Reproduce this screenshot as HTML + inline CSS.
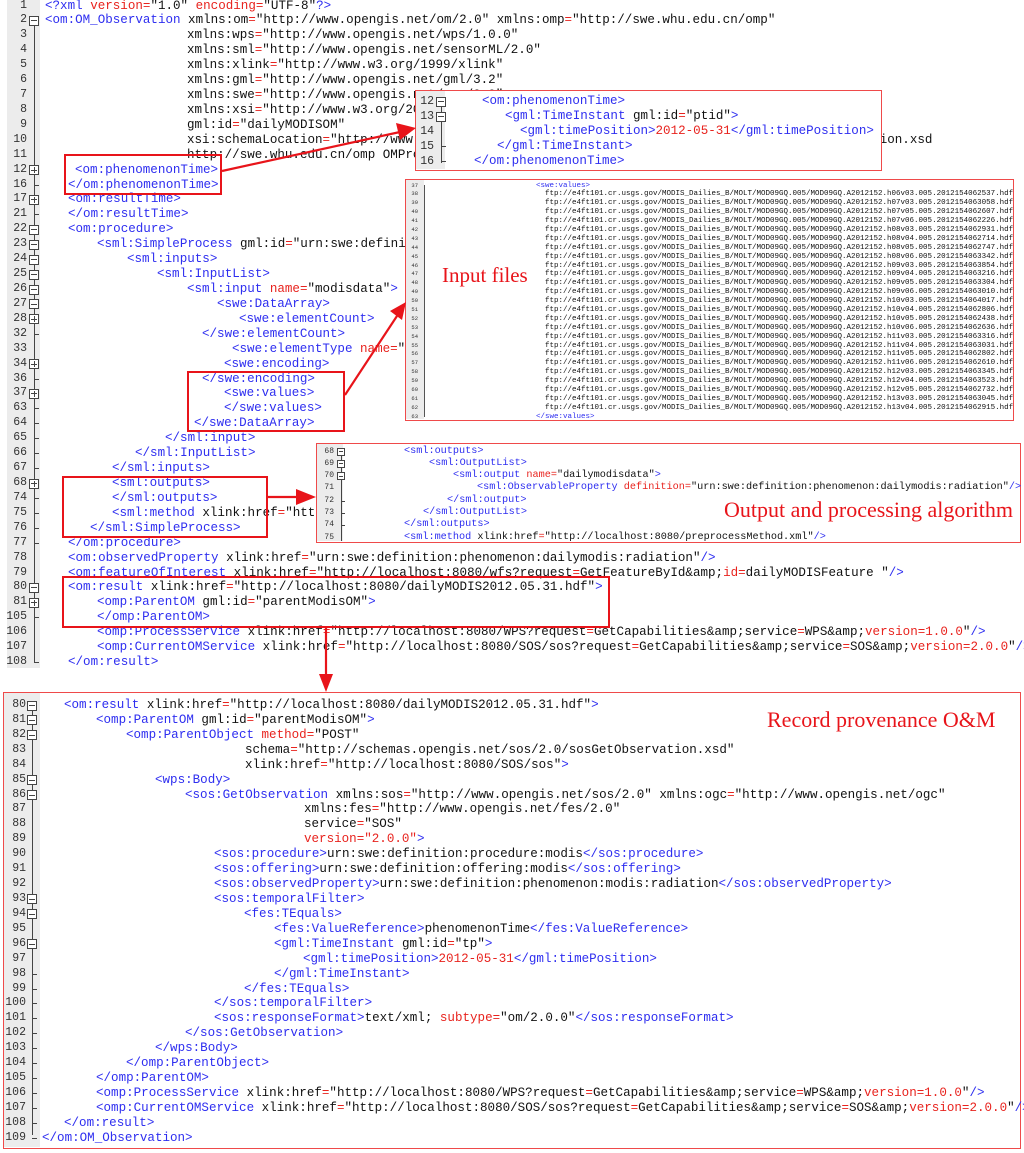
<!DOCTYPE html>
<html><head><meta charset="utf-8">
<style>
*{margin:0;padding:0;box-sizing:border-box}
body{width:1024px;height:1153px;background:#fff;position:relative;overflow:hidden;font-family:"Liberation Mono",monospace;color:#111}
i{font-style:normal;color:#e8231e}
u{text-decoration:none;color:#2e2ef0}
.pan{position:absolute}
.r{position:relative;white-space:pre}
.n{position:absolute;text-align:right;color:#333}
.c{position:absolute;white-space:pre}
.fb{position:absolute;background:#fff;border:1px solid #444;font-size:0}
.fb:before{content:"";position:absolute;left:1px;right:1px;top:50%;height:1px;margin-top:-.5px;background:#444}
.fb.p:after{content:"";position:absolute;top:1px;bottom:1px;left:50%;width:1px;margin-left:-.5px;background:#444}
.tk{position:absolute;height:1px;background:#444}
/* top panel */
#T{left:0;top:-1.5px;width:1024px;font-size:12.55px}
#T .r{height:14.93px;line-height:14.93px}
#T .n{left:0;width:27px;font-size:11.5px}
#T .fb{left:29px;top:2.5px;width:10px;height:10px}
#T .tk{left:34px;top:7px;width:5px}
#Tg{position:absolute;left:7px;top:0;width:33px;height:668px;background:#ececec}
#Tv{position:absolute;left:34px;top:26px;width:1px;height:636px;background:#444}
/* bottom */
#B{left:3px;top:692px;width:1018px;height:457px;border:1.5px solid #ef4a4a;background:#fff}
#Bin{position:absolute;left:0;top:5px;font-size:12.55px}
#Bin .r{height:14.93px;line-height:14.93px}
#Bin .n{left:0;width:22px;font-size:11.5px}
#Bin .fb{left:23px;top:2.5px;width:10px;height:10px}
#Bin .tk{left:28px;top:7px;width:5px}
#Bg{position:absolute;left:0;top:0;width:36px;height:454px;background:#ececec}
#Bv{position:absolute;left:28px;top:10px;width:1px;height:432px;background:#444}
/* panel B */
#PB{left:415px;top:90px;width:467px;height:81px;border:1.5px solid #ef4a4a;background:#fff;font-size:12.55px}
#PB .r{height:15px;line-height:15px}
#PB .n{left:0;width:18px;font-size:11.5px}
#PB .fb{left:20px;top:2.5px;width:10px;height:10px}
#PB .tk{left:25px;top:7px;width:5px}
/* panel C */
#PC{left:405px;top:179px;width:609px;height:242px;border:1.5px solid #ef4a4a;background:#fff;font-size:7.5px}
#PC .r{height:8.9px;line-height:8.9px}
#PC .n{left:0;width:12px;font-size:5.5px}
/* panel F */
#PF{left:316px;top:443px;width:705px;height:100px;border:1.5px solid #ef4a4a;background:#fff;font-size:10.2px}
#PF .r{height:12.3px;line-height:12.3px}
#PF .n{left:0;width:17px;font-size:8px}
#PF .fb{left:20px;top:2px;width:8px;height:8px}
#PF .tk{left:24px;top:6px;width:4px}
.bx{position:absolute;border:2.2px solid #e8141a}
.lab{position:absolute;font-family:"Liberation Serif",serif;color:#e8141a;white-space:nowrap}
</style></head><body>

<div id="Tg"></div><div id="Tv"></div>
<div id="T" class="pan">
<div class="r"><span class="n">1</span><span class="c" style="left:45px"><u>&lt;?xml</u> <i>version=</i>"1.0" <i>encoding=</i>"UTF-8"<u>?&gt;</u></span></div>
<div class="r"><span class="n">2</span><span class="fb"></span><span class="c" style="left:45px"><u>&lt;om:OM_Observation</u> xmlns:om<i>=</i>"http://www.opengis.net/om/2.0" xmlns:omp<i>=</i>"http://swe.whu.edu.cn/omp"</span></div>
<div class="r"><span class="n">3</span><span class="c" style="left:187px">xmlns:wps<i>=</i>"http://www.opengis.net/wps/1.0.0"</span></div>
<div class="r"><span class="n">4</span><span class="c" style="left:187px">xmlns:sml<i>=</i>"http://www.opengis.net/sensorML/2.0"</span></div>
<div class="r"><span class="n">5</span><span class="c" style="left:187px">xmlns:xlink<i>=</i>"http://www.w3.org/1999/xlink"</span></div>
<div class="r"><span class="n">6</span><span class="c" style="left:187px">xmlns:gml<i>=</i>"http://www.opengis.net/gml/3.2"</span></div>
<div class="r"><span class="n">7</span><span class="c" style="left:187px">xmlns:swe<i>=</i>"http://www.opengis.net/swe/2.0"</span></div>
<div class="r"><span class="n">8</span><span class="c" style="left:187px">xmlns:xsi<i>=</i>"http://www.w3.org/2001/XMLSchema-instance"</span></div>
<div class="r"><span class="n">9</span><span class="c" style="left:187px">gml:id<i>=</i>"dailyMODISOM"</span></div>
<div class="r"><span class="n">10</span><span class="c" style="left:187px">xsi:schemaLocation<i>=</i>"http://www.opengis.net/om/2.0 http://schemas.opengis.net/om/2.0/observation.xsd</span></div>
<div class="r"><span class="n">11</span><span class="c" style="left:187px">http://swe.whu.edu.cn/omp OMProcess.xsd"</span></div>
<div class="r"><span class="n">12</span><span class="fb p"></span><span class="c" style="left:75px"><u>&lt;om:phenomenonTime&gt;</u></span></div>
<div class="r"><span class="n">16</span><span class="tk"></span><span class="c" style="left:68px"><u>&lt;/om:phenomenonTime&gt;</u></span></div>
<div class="r"><span class="n">17</span><span class="fb p"></span><span class="c" style="left:68px"><u>&lt;om:resultTime&gt;</u></span></div>
<div class="r"><span class="n">21</span><span class="tk"></span><span class="c" style="left:68px"><u>&lt;/om:resultTime&gt;</u></span></div>
<div class="r"><span class="n">22</span><span class="fb"></span><span class="c" style="left:68px"><u>&lt;om:procedure&gt;</u></span></div>
<div class="r"><span class="n">23</span><span class="fb"></span><span class="c" style="left:97px"><u>&lt;sml:SimpleProcess</u> gml:id<i>=</i>"urn:swe:definition:procedure:modis"<u>&gt;</u></span></div>
<div class="r"><span class="n">24</span><span class="fb"></span><span class="c" style="left:127px"><u>&lt;sml:inputs&gt;</u></span></div>
<div class="r"><span class="n">25</span><span class="fb"></span><span class="c" style="left:157px"><u>&lt;sml:InputList&gt;</u></span></div>
<div class="r"><span class="n">26</span><span class="fb"></span><span class="c" style="left:187px"><u>&lt;sml:input</u> <i>name=</i>"modisdata"<u>&gt;</u></span></div>
<div class="r"><span class="n">27</span><span class="fb"></span><span class="c" style="left:217px"><u>&lt;swe:DataArray&gt;</u></span></div>
<div class="r"><span class="n">28</span><span class="fb p"></span><span class="c" style="left:239px"><u>&lt;swe:elementCount&gt;</u></span></div>
<div class="r"><span class="n">32</span><span class="tk"></span><span class="c" style="left:202px"><u>&lt;/swe:elementCount&gt;</u></span></div>
<div class="r"><span class="n">33</span><span class="c" style="left:232px"><u>&lt;swe:elementType</u> <i>name=</i>"MODIS"<u>&gt;</u></span></div>
<div class="r"><span class="n">34</span><span class="fb p"></span><span class="c" style="left:224px"><u>&lt;swe:encoding&gt;</u></span></div>
<div class="r"><span class="n">36</span><span class="tk"></span><span class="c" style="left:202px"><u>&lt;/swe:encoding&gt;</u></span></div>
<div class="r"><span class="n">37</span><span class="fb p"></span><span class="c" style="left:224px"><u>&lt;swe:values&gt;</u></span></div>
<div class="r"><span class="n">63</span><span class="tk"></span><span class="c" style="left:224px"><u>&lt;/swe:values&gt;</u></span></div>
<div class="r"><span class="n">64</span><span class="tk"></span><span class="c" style="left:194px"><u>&lt;/swe:DataArray&gt;</u></span></div>
<div class="r"><span class="n">65</span><span class="tk"></span><span class="c" style="left:165px"><u>&lt;/sml:input&gt;</u></span></div>
<div class="r"><span class="n">66</span><span class="tk"></span><span class="c" style="left:135px"><u>&lt;/sml:InputList&gt;</u></span></div>
<div class="r"><span class="n">67</span><span class="tk"></span><span class="c" style="left:112px"><u>&lt;/sml:inputs&gt;</u></span></div>
<div class="r"><span class="n">68</span><span class="fb p"></span><span class="c" style="left:112px"><u>&lt;sml:outputs&gt;</u></span></div>
<div class="r"><span class="n">74</span><span class="tk"></span><span class="c" style="left:112px"><u>&lt;/sml:outputs&gt;</u></span></div>
<div class="r"><span class="n">75</span><span class="tk"></span><span class="c" style="left:112px"><u>&lt;sml:method</u> xlink:href<i>=</i>"http://localhost:8080/preprocessMethod.xml"<u>/&gt;</u></span></div>
<div class="r"><span class="n">76</span><span class="tk"></span><span class="c" style="left:90px"><u>&lt;/sml:SimpleProcess&gt;</u></span></div>
<div class="r"><span class="n">77</span><span class="tk"></span><span class="c" style="left:68px"><u>&lt;/om:procedure&gt;</u></span></div>
<div class="r"><span class="n">78</span><span class="c" style="left:68px"><u>&lt;om:observedProperty</u> xlink:href<i>=</i>"urn:swe:definition:phenomenon:dailymodis:radiation"<u>/&gt;</u></span></div>
<div class="r"><span class="n">79</span><span class="c" style="left:68px"><u>&lt;om:featureOfInterest</u> xlink:href<i>=</i>"http://localhost:8080/wfs?request<i>=</i>GetFeatureById&amp;amp;<i>id=</i>dailyMODISFeature "<u>/&gt;</u></span></div>
<div class="r"><span class="n">80</span><span class="fb"></span><span class="c" style="left:68px"><u>&lt;om:result</u> xlink:href<i>=</i>"http://localhost:8080/dailyMODIS2012.05.31.hdf"<u>&gt;</u></span></div>
<div class="r"><span class="n">81</span><span class="fb p"></span><span class="c" style="left:97px"><u>&lt;omp:ParentOM</u> gml:id<i>=</i>"parentModisOM"<u>&gt;</u></span></div>
<div class="r"><span class="n">105</span><span class="tk"></span><span class="c" style="left:97px"><u>&lt;/omp:ParentOM&gt;</u></span></div>
<div class="r"><span class="n">106</span><span class="c" style="left:97px"><u>&lt;omp:ProcessService</u> xlink:href<i>=</i>"http://localhost:8080/WPS?request<i>=</i>GetCapabilities&amp;amp;service<i>=</i>WPS&amp;amp;<i>version=1.0.0</i>"<u>/&gt;</u></span></div>
<div class="r"><span class="n">107</span><span class="c" style="left:97px"><u>&lt;omp:CurrentOMService</u> xlink:href<i>=</i>"http://localhost:8080/SOS/sos?request<i>=</i>GetCapabilities&amp;amp;service<i>=</i>SOS&amp;amp;<i>version=2.0.0</i>"<u>/&gt;</u></span></div>
<div class="r"><span class="n">108</span><span class="tk"></span><span class="c" style="left:68px"><u>&lt;/om:result&gt;</u></span></div>
</div>

<!-- Panel B -->
<div id="PB" class="pan">
<div style="position:absolute;left:0;top:0;width:29px;height:78px;background:#ececec"></div>
<div style="position:absolute;left:25px;top:8px;width:1px;height:64px;background:#444"></div>
<div style="position:absolute;left:0;top:3px;width:464px">
<div class="r"><span class="n">12</span><span class="fb"></span><span class="c" style="left:66px"><u>&lt;om:phenomenonTime&gt;</u></span></div>
<div class="r"><span class="n">13</span><span class="fb"></span><span class="c" style="left:89px"><u>&lt;gml:TimeInstant</u> gml:id<i>=</i>"ptid"<u>&gt;</u></span></div>
<div class="r"><span class="n">14</span><span class="c" style="left:104px"><u>&lt;gml:timePosition&gt;</u><i>2012-05-31</i><u>&lt;/gml:timePosition&gt;</u></span></div>
<div class="r"><span class="n">15</span><span class="tk"></span><span class="c" style="left:81px"><u>&lt;/gml:TimeInstant&gt;</u></span></div>
<div class="r"><span class="n">16</span><span class="tk"></span><span class="c" style="left:58px"><u>&lt;/om:phenomenonTime&gt;</u></span></div>
</div></div>

<!-- Panel C -->
<div id="PC" class="pan">
<div style="position:absolute;left:0;top:0;width:18px;height:239px;background:#ececec"></div>
<div style="position:absolute;left:18px;top:5px;width:1px;height:232px;background:#555"></div>
<div style="position:absolute;left:0;top:1.5px;width:606px">
<div class="r"><span class="n">37</span><span class="c" style="left:130px"><u>&lt;swe:values&gt;</u></span></div>
<div class="r"><span class="n">38</span><span class="c" style="left:139px">ftp://e4ft101.cr.usgs.gov/MODIS_Dailies_B/MOLT/MOD09GQ.005/MOD09GQ.A2012152.h06v03.005.2012154062537.hdf</span></div>
<div class="r"><span class="n">39</span><span class="c" style="left:139px">ftp://e4ft101.cr.usgs.gov/MODIS_Dailies_B/MOLT/MOD09GQ.005/MOD09GQ.A2012152.h07v03.005.2012154063058.hdf</span></div>
<div class="r"><span class="n">40</span><span class="c" style="left:139px">ftp://e4ft101.cr.usgs.gov/MODIS_Dailies_B/MOLT/MOD09GQ.005/MOD09GQ.A2012152.h07v05.005.2012154062607.hdf</span></div>
<div class="r"><span class="n">41</span><span class="c" style="left:139px">ftp://e4ft101.cr.usgs.gov/MODIS_Dailies_B/MOLT/MOD09GQ.005/MOD09GQ.A2012152.h07v06.005.2012154062226.hdf</span></div>
<div class="r"><span class="n">42</span><span class="c" style="left:139px">ftp://e4ft101.cr.usgs.gov/MODIS_Dailies_B/MOLT/MOD09GQ.005/MOD09GQ.A2012152.h08v03.005.2012154062931.hdf</span></div>
<div class="r"><span class="n">43</span><span class="c" style="left:139px">ftp://e4ft101.cr.usgs.gov/MODIS_Dailies_B/MOLT/MOD09GQ.005/MOD09GQ.A2012152.h08v04.005.2012154062714.hdf</span></div>
<div class="r"><span class="n">44</span><span class="c" style="left:139px">ftp://e4ft101.cr.usgs.gov/MODIS_Dailies_B/MOLT/MOD09GQ.005/MOD09GQ.A2012152.h08v05.005.2012154062747.hdf</span></div>
<div class="r"><span class="n">45</span><span class="c" style="left:139px">ftp://e4ft101.cr.usgs.gov/MODIS_Dailies_B/MOLT/MOD09GQ.005/MOD09GQ.A2012152.h08v06.005.2012154063342.hdf</span></div>
<div class="r"><span class="n">46</span><span class="c" style="left:139px">ftp://e4ft101.cr.usgs.gov/MODIS_Dailies_B/MOLT/MOD09GQ.005/MOD09GQ.A2012152.h09v03.005.2012154063854.hdf</span></div>
<div class="r"><span class="n">47</span><span class="c" style="left:139px">ftp://e4ft101.cr.usgs.gov/MODIS_Dailies_B/MOLT/MOD09GQ.005/MOD09GQ.A2012152.h09v04.005.2012154063216.hdf</span></div>
<div class="r"><span class="n">48</span><span class="c" style="left:139px">ftp://e4ft101.cr.usgs.gov/MODIS_Dailies_B/MOLT/MOD09GQ.005/MOD09GQ.A2012152.h09v05.005.2012154063304.hdf</span></div>
<div class="r"><span class="n">49</span><span class="c" style="left:139px">ftp://e4ft101.cr.usgs.gov/MODIS_Dailies_B/MOLT/MOD09GQ.005/MOD09GQ.A2012152.h09v06.005.2012154063010.hdf</span></div>
<div class="r"><span class="n">50</span><span class="c" style="left:139px">ftp://e4ft101.cr.usgs.gov/MODIS_Dailies_B/MOLT/MOD09GQ.005/MOD09GQ.A2012152.h10v03.005.2012154064017.hdf</span></div>
<div class="r"><span class="n">51</span><span class="c" style="left:139px">ftp://e4ft101.cr.usgs.gov/MODIS_Dailies_B/MOLT/MOD09GQ.005/MOD09GQ.A2012152.h10v04.005.2012154062806.hdf</span></div>
<div class="r"><span class="n">52</span><span class="c" style="left:139px">ftp://e4ft101.cr.usgs.gov/MODIS_Dailies_B/MOLT/MOD09GQ.005/MOD09GQ.A2012152.h10v05.005.2012154062438.hdf</span></div>
<div class="r"><span class="n">53</span><span class="c" style="left:139px">ftp://e4ft101.cr.usgs.gov/MODIS_Dailies_B/MOLT/MOD09GQ.005/MOD09GQ.A2012152.h10v06.005.2012154062636.hdf</span></div>
<div class="r"><span class="n">54</span><span class="c" style="left:139px">ftp://e4ft101.cr.usgs.gov/MODIS_Dailies_B/MOLT/MOD09GQ.005/MOD09GQ.A2012152.h11v03.005.2012154063316.hdf</span></div>
<div class="r"><span class="n">55</span><span class="c" style="left:139px">ftp://e4ft101.cr.usgs.gov/MODIS_Dailies_B/MOLT/MOD09GQ.005/MOD09GQ.A2012152.h11v04.005.2012154063031.hdf</span></div>
<div class="r"><span class="n">56</span><span class="c" style="left:139px">ftp://e4ft101.cr.usgs.gov/MODIS_Dailies_B/MOLT/MOD09GQ.005/MOD09GQ.A2012152.h11v05.005.2012154062802.hdf</span></div>
<div class="r"><span class="n">57</span><span class="c" style="left:139px">ftp://e4ft101.cr.usgs.gov/MODIS_Dailies_B/MOLT/MOD09GQ.005/MOD09GQ.A2012152.h11v06.005.2012154062610.hdf</span></div>
<div class="r"><span class="n">58</span><span class="c" style="left:139px">ftp://e4ft101.cr.usgs.gov/MODIS_Dailies_B/MOLT/MOD09GQ.005/MOD09GQ.A2012152.h12v03.005.2012154063345.hdf</span></div>
<div class="r"><span class="n">59</span><span class="c" style="left:139px">ftp://e4ft101.cr.usgs.gov/MODIS_Dailies_B/MOLT/MOD09GQ.005/MOD09GQ.A2012152.h12v04.005.2012154063523.hdf</span></div>
<div class="r"><span class="n">60</span><span class="c" style="left:139px">ftp://e4ft101.cr.usgs.gov/MODIS_Dailies_B/MOLT/MOD09GQ.005/MOD09GQ.A2012152.h12v05.005.2012154062732.hdf</span></div>
<div class="r"><span class="n">61</span><span class="c" style="left:139px">ftp://e4ft101.cr.usgs.gov/MODIS_Dailies_B/MOLT/MOD09GQ.005/MOD09GQ.A2012152.h13v03.005.2012154063045.hdf</span></div>
<div class="r"><span class="n">62</span><span class="c" style="left:139px">ftp://e4ft101.cr.usgs.gov/MODIS_Dailies_B/MOLT/MOD09GQ.005/MOD09GQ.A2012152.h13v04.005.2012154062915.hdf</span></div>
<div class="r"><span class="n">63</span><span class="c" style="left:130px"><u>&lt;/swe:values&gt;</u></span></div>
</div>
<div class="lab" style="left:36px;top:83px;font-size:21px">Input files</div>
</div>

<!-- Panel F -->
<div id="PF" class="pan">
<div style="position:absolute;left:0;top:0;width:26px;height:97px;background:#ececec"></div>
<div style="position:absolute;left:24px;top:6px;width:1px;height:91px;background:#444"></div>
<div style="position:absolute;left:0;top:1.5px;width:700px">
<div class="r"><span class="n">68</span><span class="fb"></span><span class="c" style="left:87px"><u>&lt;sml:outputs&gt;</u></span></div>
<div class="r"><span class="n">69</span><span class="fb"></span><span class="c" style="left:112px"><u>&lt;sml:OutputList&gt;</u></span></div>
<div class="r"><span class="n">70</span><span class="fb"></span><span class="c" style="left:136px"><u>&lt;sml:output</u> <i>name=</i>"dailymodisdata"<u>&gt;</u></span></div>
<div class="r"><span class="n">71</span><span class="c" style="left:160px"><u>&lt;sml:ObservableProperty</u> <i>definition=</i>"urn:swe:definition:phenomenon:dailymodis:radiation"<u>/&gt;</u></span></div>
<div class="r"><span class="n">72</span><span class="tk"></span><span class="c" style="left:130px"><u>&lt;/sml:output&gt;</u></span></div>
<div class="r"><span class="n">73</span><span class="tk"></span><span class="c" style="left:106px"><u>&lt;/sml:OutputList&gt;</u></span></div>
<div class="r"><span class="n">74</span><span class="tk"></span><span class="c" style="left:87px"><u>&lt;/sml:outputs&gt;</u></span></div>
<div class="r"><span class="n">75</span><span class="c" style="left:87px"><u>&lt;sml:method</u> xlink:href<i>=</i>"http://localhost:8080/preprocessMethod.xml"<u>/&gt;</u></span></div>
</div>
<div class="lab" style="left:407px;top:53px;font-size:22px">Output and processing algorithm</div>
</div>

<!-- Bottom panel -->
<div id="B" class="pan">
<div id="Bg"></div><div id="Bv"></div>
<div id="Bin" class="pan" style="width:1015px">
<div class="r"><span class="n">80</span><span class="fb"></span><span class="c" style="left:60px"><u>&lt;om:result</u> xlink:href<i>=</i>"http://localhost:8080/dailyMODIS2012.05.31.hdf"<u>&gt;</u></span></div>
<div class="r"><span class="n">81</span><span class="fb"></span><span class="c" style="left:92px"><u>&lt;omp:ParentOM</u> gml:id<i>=</i>"parentModisOM"<u>&gt;</u></span></div>
<div class="r"><span class="n">82</span><span class="fb"></span><span class="c" style="left:122px"><u>&lt;omp:ParentObject</u> <i>method=</i>"POST"</span></div>
<div class="r"><span class="n">83</span><span class="c" style="left:241px">schema<i>=</i>"http://schemas.opengis.net/sos/2.0/sosGetObservation.xsd"</span></div>
<div class="r"><span class="n">84</span><span class="c" style="left:241px">xlink:href<i>=</i>"http://localhost:8080/SOS/sos"<u>&gt;</u></span></div>
<div class="r"><span class="n">85</span><span class="fb"></span><span class="c" style="left:151px"><u>&lt;wps:Body&gt;</u></span></div>
<div class="r"><span class="n">86</span><span class="fb"></span><span class="c" style="left:181px"><u>&lt;sos:GetObservation</u> xmlns:sos<i>=</i>"http://www.opengis.net/sos/2.0" xmlns:ogc<i>=</i>"http://www.opengis.net/ogc"</span></div>
<div class="r"><span class="n">87</span><span class="c" style="left:300px">xmlns:fes<i>=</i>"http://www.opengis.net/fes/2.0"</span></div>
<div class="r"><span class="n">88</span><span class="c" style="left:300px">service<i>=</i>"SOS"</span></div>
<div class="r"><span class="n">89</span><span class="c" style="left:300px"><i>version="2.0.0"</i><u>&gt;</u></span></div>
<div class="r"><span class="n">90</span><span class="c" style="left:210px"><u>&lt;sos:procedure&gt;</u>urn:swe:definition:procedure:modis<u>&lt;/sos:procedure&gt;</u></span></div>
<div class="r"><span class="n">91</span><span class="c" style="left:210px"><u>&lt;sos:offering&gt;</u>urn:swe:definition:offering:modis<u>&lt;/sos:offering&gt;</u></span></div>
<div class="r"><span class="n">92</span><span class="c" style="left:210px"><u>&lt;sos:observedProperty&gt;</u>urn:swe:definition:phenomenon:modis:radiation<u>&lt;/sos:observedProperty&gt;</u></span></div>
<div class="r"><span class="n">93</span><span class="fb"></span><span class="c" style="left:210px"><u>&lt;sos:temporalFilter&gt;</u></span></div>
<div class="r"><span class="n">94</span><span class="fb"></span><span class="c" style="left:240px"><u>&lt;fes:TEquals&gt;</u></span></div>
<div class="r"><span class="n">95</span><span class="c" style="left:270px"><u>&lt;fes:ValueReference&gt;</u>phenomenonTime<u>&lt;/fes:ValueReference&gt;</u></span></div>
<div class="r"><span class="n">96</span><span class="fb"></span><span class="c" style="left:270px"><u>&lt;gml:TimeInstant</u> gml:id<i>=</i>"tp"<u>&gt;</u></span></div>
<div class="r"><span class="n">97</span><span class="c" style="left:299px"><u>&lt;gml:timePosition&gt;</u><i>2012-05-31</i><u>&lt;/gml:timePosition&gt;</u></span></div>
<div class="r"><span class="n">98</span><span class="tk"></span><span class="c" style="left:270px"><u>&lt;/gml:TimeInstant&gt;</u></span></div>
<div class="r"><span class="n">99</span><span class="tk"></span><span class="c" style="left:240px"><u>&lt;/fes:TEquals&gt;</u></span></div>
<div class="r"><span class="n">100</span><span class="tk"></span><span class="c" style="left:210px"><u>&lt;/sos:temporalFilter&gt;</u></span></div>
<div class="r"><span class="n">101</span><span class="tk"></span><span class="c" style="left:210px"><u>&lt;sos:responseFormat&gt;</u>text/xml; <i>subtype=</i>"om/2.0.0"<u>&lt;/sos:responseFormat&gt;</u></span></div>
<div class="r"><span class="n">102</span><span class="tk"></span><span class="c" style="left:181px"><u>&lt;/sos:GetObservation&gt;</u></span></div>
<div class="r"><span class="n">103</span><span class="tk"></span><span class="c" style="left:151px"><u>&lt;/wps:Body&gt;</u></span></div>
<div class="r"><span class="n">104</span><span class="tk"></span><span class="c" style="left:122px"><u>&lt;/omp:ParentObject&gt;</u></span></div>
<div class="r"><span class="n">105</span><span class="tk"></span><span class="c" style="left:92px"><u>&lt;/omp:ParentOM&gt;</u></span></div>
<div class="r"><span class="n">106</span><span class="tk"></span><span class="c" style="left:92px"><u>&lt;omp:ProcessService</u> xlink:href<i>=</i>"http://localhost:8080/WPS?request<i>=</i>GetCapabilities&amp;amp;service<i>=</i>WPS&amp;amp;<i>version=1.0.0</i>"<u>/&gt;</u></span></div>
<div class="r"><span class="n">107</span><span class="tk"></span><span class="c" style="left:92px"><u>&lt;omp:CurrentOMService</u> xlink:href<i>=</i>"http://localhost:8080/SOS/sos?request<i>=</i>GetCapabilities&amp;amp;service<i>=</i>SOS&amp;amp;<i>version=2.0.0</i>"<u>/&gt;</u></span></div>
<div class="r"><span class="n">108</span><span class="tk"></span><span class="c" style="left:60px"><u>&lt;/om:result&gt;</u></span></div>
<div class="r"><span class="n">109</span><span class="tk" style="top:7px"></span><span class="c" style="left:38px"><u>&lt;/om:OM_Observation&gt;</u></span></div>
</div>
<div class="lab" style="left:763px;top:14px;font-size:22px">Record provenance O&amp;M</div>
</div>

<!-- highlight boxes -->
<div class="bx" style="left:64px;top:154px;width:158px;height:41px"></div>
<div class="bx" style="left:187px;top:371px;width:158px;height:61px"></div>
<div class="bx" style="left:62px;top:476px;width:206px;height:62px"></div>
<div class="bx" style="left:62px;top:576px;width:548px;height:52px"></div>

<svg width="1024" height="1153" style="position:absolute;left:0;top:0" viewBox="0 0 1024 1153">
<g stroke="#e8141a" stroke-width="2.2" fill="#e8141a">
<line x1="222" y1="171" x2="400" y2="132"/>
<polygon points="416,128 396,123 400,140" stroke="none"/>
<line x1="345" y1="395" x2="397" y2="316"/>
<polygon points="406,302 390,311 402,320" stroke="none"/>
<line x1="268" y1="497" x2="298" y2="497"/>
<polygon points="316,497 296,489 296,505" stroke="none"/>
<line x1="326" y1="628" x2="326" y2="676"/>
<polygon points="326,692 319,674 333,674" stroke="none"/>
</g>
</svg>
</body></html>
